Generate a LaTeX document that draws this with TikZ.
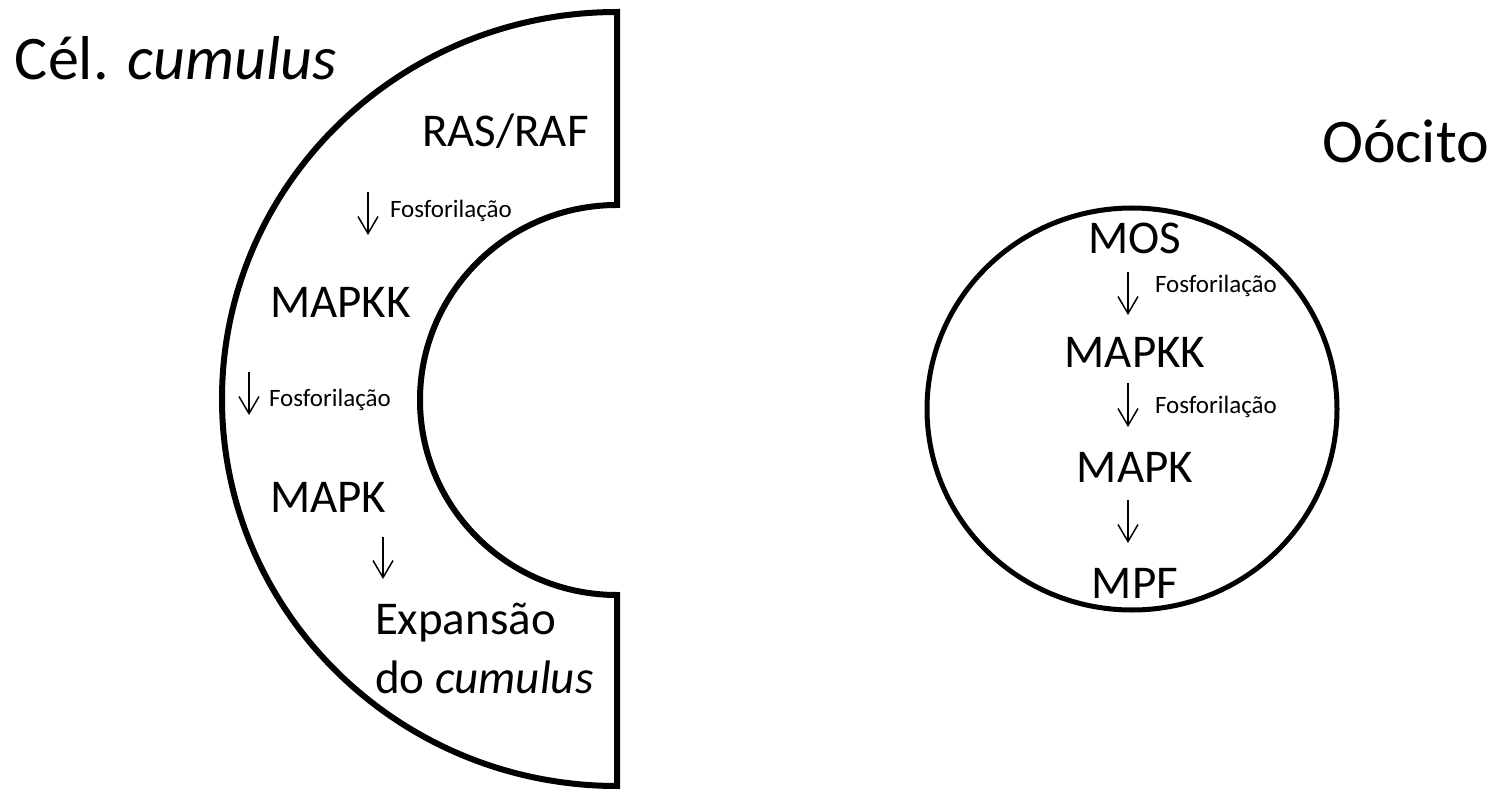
\documentclass[tikz,border=0pt]{standalone}
\usepackage{fontspec}
\setmainfont{Carlito}
\usetikzlibrary{arrows.meta}

\begin{document}
\begin{tikzpicture}[x=0.5pt,y=0.5pt,
  title/.style={anchor=base west,inner sep=0pt,outer sep=0pt,font=\fontsize{31}{36}\selectfont},
  label/.style={inner sep=0pt,outer sep=0pt,font=\fontsize{23.5}{28}\selectfont},
  note/.style={anchor=base west,inner sep=0pt,outer sep=0pt,font=\fontsize{12.5}{15}\selectfont},
  flow/.style={line width=0.75pt,-{Straight Barb[length=8.5pt,width=10pt,line width=0.75pt]}},
  wall/.style={line width=3pt,line join=miter}]
\path[use as bounding box] (0,0) rectangle (1495,789);

% cumulus cell (half ring)
\draw[wall] (617,777) -- (617,584)
  arc[start angle=90,end angle=270,x radius=197,y radius=195] -- (617,3)
  arc[start angle=270,end angle=90,x radius=395,y radius=387] -- cycle;

\node[title] (cel) at (15,709) {Cél. \textit{cumulus}};
\node[label,anchor=base west] (rasraf) at (422,642) {RAS/RAF};
\node[label,anchor=base west] (mapkkL) at (270,472) {MAPKK};
\node[label,anchor=base west] (mapkL) at (270,277) {MAPK};
\node[label,anchor=base west] (expA) at (375,155) {Expansão};
\node[label,anchor=base west] (expB) at (375,96) {do \textit{cumulus}};

\coordinate (a1s) at (368,597); \coordinate (a1e) at (368,554);
\coordinate (a2s) at (249,417); \coordinate (a2e) at (249,374);
\coordinate (a3s) at (383,252); \coordinate (a3e) at (383,210);
\draw[flow] (a1s) -- (a1e);
\draw[flow] (a2s) -- (a2e);
\draw[flow] (a3s) -- (a3e);
\node[note] (fosA) at (390,571) {Fosforilação};
\node[note] (fosB) at (269,383) {Fosforilação};

% oocyte
\draw[line width=2.5pt] (1132,380) ellipse[x radius=205,y radius=201];
\node[title] (oocito) at (1322,626) {Oócito};
\node[label,anchor=base] (mos) at (1135,536) {MOS};
\node[label,anchor=base] (mapkkR) at (1135,422) {MAPKK};
\node[label,anchor=base] (mapkR) at (1135,307) {MAPK};
\node[label,anchor=base] (mpf) at (1135,191) {MPF};

\coordinate (b1s) at (1128,517); \coordinate (b1e) at (1128,474);
\coordinate (b2s) at (1128,406); \coordinate (b2e) at (1128,362);
\coordinate (b3s) at (1128,289); \coordinate (b3e) at (1128,246);
\draw[flow] (b1s) -- (b1e);
\draw[flow] (b2s) -- (b2e);
\draw[flow] (b3s) -- (b3e);
\node[note] (fosC) at (1155,496) {Fosforilação};
\node[note] (fosD) at (1155,376) {Fosforilação};
\end{tikzpicture}
\end{document}
